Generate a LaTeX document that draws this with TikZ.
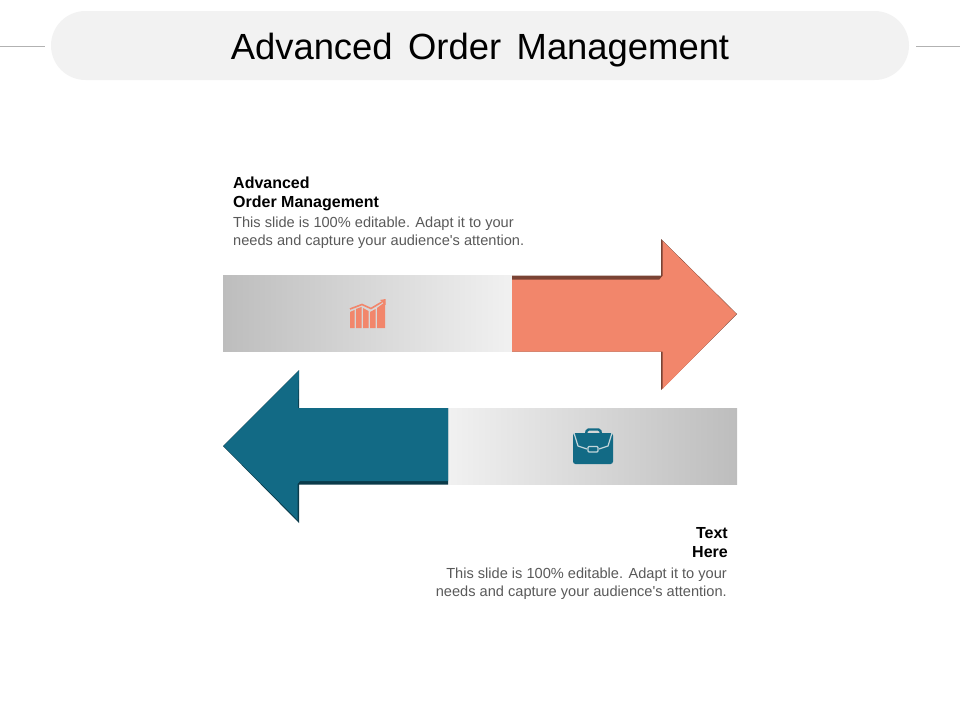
\documentclass[tikz,border=0pt]{standalone}
\usepackage{fontspec}
\setmainfont{Liberation Sans}
\newfontfamily\plainsans{Liberation Sans}
\usepackage{xcolor}
\definecolor{salmon}{HTML}{F2866B}
\definecolor{salmondark}{HTML}{7A4334}
\definecolor{teal}{HTML}{126A85}
\definecolor{tealdark}{HTML}{0B3B4A}
\definecolor{pale}{HTML}{F2F2F2}
\definecolor{barL}{HTML}{BDBDBD}
\definecolor{barR}{HTML}{F1F1F1}
\definecolor{bodytext}{HTML}{595959}
\tikzset{
  headtext/.style={font=\fontsize{16}{19}\selectfont\bfseries,text=black,inner sep=0pt,align=left,anchor=north west},
  smalltext/.style={font=\plainsans\fontsize{14.6}{18}\selectfont,text=bodytext,inner sep=0pt,align=left,anchor=north west},
  sideline/.style={line width=0.6pt,gray!60},
}
\begin{document}
\begin{tikzpicture}[x=1pt,y=-1pt]
\useasboundingbox (0,0) rectangle (960,720);
% title band
\fill[pale,rounded corners=34.4pt] (51,11) rectangle (909,80);
\draw[sideline] (0,46) -- (45,46);
\draw[sideline] (916,46) -- (960,46);
\node[inner sep=0pt] (title) at (480,50) {\fontsize{36.4}{40}\selectfont\spaceskip=15.5pt\relax Advanced Order Management};
% upper arrow
\fill[left color=barL,right color=barR] (223,275) rectangle (512,351.7);
\fill[salmondark] (512,275.5) -- (661,275.5) -- (661,239) -- (737,314) -- (661,390) -- (661,351.7) -- (512,351.7) -- cycle;
\fill[salmon] (512,279.5) -- (659.5,279.5) -- (662.5,276) -- (662.5,241) -- (736.3,314) -- (662.5,389) -- (662.5,351.7) -- (512,351.7) -- cycle;
% lower arrow
\fill[left color=barR,right color=barL] (448,408) rectangle (737,484.7);
\fill[tealdark] (448,408) -- (299,408) -- (299,370) -- (223,446) -- (299,523) -- (299,484.7) -- (448,484.7) -- cycle;
\fill[teal] (448,408) -- (298,408) -- (299,370.5) -- (223.7,446) -- (297.5,520) -- (297.5,484) -- (300,481) -- (448,481) -- cycle;
% chart icon
\fill[salmon] (350,328) -- (350,312) -- (354.5,310) -- (354.5,328) -- cycle;
\fill[salmon] (356,328) -- (356,309) -- (361.5,307) -- (361.5,328) -- cycle;
\fill[salmon] (363,328) -- (363,308) -- (368.5,311) -- (368.5,328) -- cycle;
\fill[salmon] (370,328) -- (370,312) -- (375.5,309) -- (375.5,328) -- cycle;
\fill[salmon] (377,328) -- (377,308) -- (385,302) -- (385,328) -- cycle;
\draw[salmon,line width=1.6pt] (350,309) -- (362,304.5) -- (371,308.5) -- (382,302);
\fill[salmon] (380,300) -- (385.5,299) -- (385.5,305) -- cycle;
% briefcase icon
\draw[teal,line width=2.4pt,rounded corners=1.5pt] (586,434) -- (587,429.5) -- (600,429.5) -- (601,434);
\fill[teal,rounded corners=2.5pt] (573,433) rectangle (613,464);
\draw[barR!80!teal,line width=1.2pt,line join=round] (574,433) -- (578,446) -- (587,449);
\draw[barR!80!teal,line width=1.2pt,line join=round] (612,433) -- (608,446) -- (599,449);
\draw[barR!80!teal,line width=1.2pt,fill=teal,rounded corners=1pt] (588,446.5) rectangle (598,452);
% captions
\node[headtext] (upperhead) at (233,176.5) {Advanced\\Order Management};
\node[smalltext] (upperbody) at (233,217) {This slide is 100\% editable. Adapt it to your\\needs and capture your audience's attention.};
\node[headtext,align=right,anchor=north east] (lowerhead) at (728,527.5) {Text\\Here};
\node[smalltext,align=right,anchor=north east] (lowerbody) at (727,567.5) {This slide is 100\% editable. Adapt it to your\\needs and capture your audience's attention.};
\end{tikzpicture}
\end{document}
